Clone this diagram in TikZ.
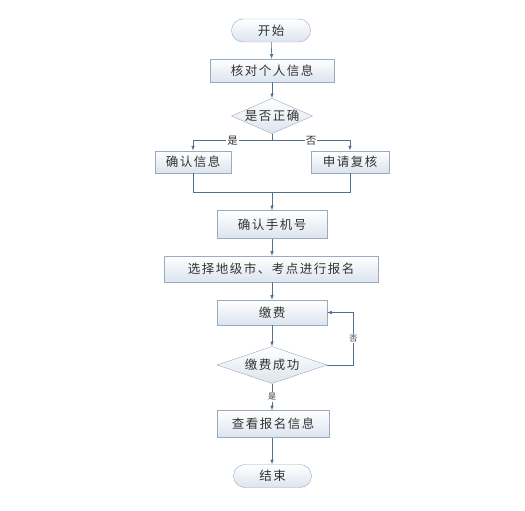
\documentclass[tikz,border=0pt]{standalone}
\usepackage{fontspec}
\usepackage{tikz}
\usetikzlibrary{shapes.geometric}
\usetikzlibrary{shapes.misc}
\usetikzlibrary{calc}
\setmainfont{Noto Sans CJK SC}[LetterSpace=12]
\definecolor{boxline}{HTML}{9AAABF}
\definecolor{boxfill}{HTML}{DCE4EE}
\definecolor{arrowcol}{HTML}{566F8C}
\definecolor{textcol}{HTML}{333333}

\tikzset{
    basebox/.style={draw=boxline, top color=white, bottom color=boxfill, text=textcol, font=\fontsize{12.5}{14}\selectfont, inner sep=0pt},
    procbox/.style={basebox, rectangle},
    termbox/.style={basebox, rounded rectangle},
    decibox/.style={basebox, diamond, aspect=2.3},
    flow/.style={draw=arrowcol, ->, >=latex, line width=0.6pt},
    lbl/.style={fill=white, text=textcol, inner sep=1pt, font=\fontsize{10.5}{12}\selectfont}
}

\begin{document}
\begin{tikzpicture}[x=1pt,y=-1pt]
        \begin{scope}
            \useasboundingbox[fill=white] (0,0) rectangle (525,511);

            \node[termbox, minimum width=79pt, minimum height=23pt] (start) at (271,30.5) {开始};
            \node[procbox, minimum width=124pt, minimum height=23pt] (check) at (272,70.5) {核对个人信息};
            \node[decibox, minimum width=78pt, minimum height=34pt] (ok) at (272,116) {是否正确};
            \node[procbox, minimum width=76pt, minimum height=22pt] (confirm) at (193,161.7) {确认信息};
            \node[procbox, minimum width=78pt, minimum height=22pt] (review) at (350,161.7) {申请复核};
            \node[procbox, minimum width=110pt, minimum height=28pt] (phone) at (272,224.5) {确认手机号};
            \node[procbox, minimum width=214pt, minimum height=26pt] (select) at (271,269) {选择地级市、考点进行报名};
            \node[procbox, minimum width=110pt, minimum height=25pt] (pay) at (272,312.5) {缴费};
            \node[decibox, minimum width=110pt, minimum height=37pt] (paid) at (272,365) {缴费成功};
            \node[procbox, minimum width=112pt, minimum height=27pt] (info) at (273,424) {查看报名信息};
            \node[termbox, minimum width=78pt, minimum height=23pt] (finish) at (272.5,476) {结束};

            \coordinate (split) at (272,140.7);
            \coordinate (merge) at (272,192.3);
            \coordinate (loop) at (353.3,365);

            \draw[flow] (start) -- (check);
            \draw[flow] (check) -- (ok);
            \draw[flow] (ok.south) -- (split) -| (confirm.north) node[lbl, pos=0.25] {是};
            \draw[flow] (split) -| (review.north) node[lbl, pos=0.25] {否};
            \draw[draw=arrowcol, line width=0.6pt] (confirm.south) |- (merge) -| (review.south);
            \draw[flow] (merge) -- (phone.north -| merge);
            \draw[flow] (phone.south -| merge) -- (select.north -| merge);
            \draw[flow] (select.south -| merge) -- (pay.north -| merge);
            \draw[flow] (pay.south -| merge) -- (paid.north -| merge);
            \draw[flow] (paid.east) -- (loop) |- (pay.east) node[lbl, pos=0.25, font=\fontsize{8}{9}\selectfont] {否};
            \draw[flow] (paid.south -| merge) -- (info.north -| merge) node[lbl, midway, font=\fontsize{8}{9}\selectfont] {是};
            \draw[flow] (info.south -| merge) -- (finish.north -| merge);

        \end{scope}
    \end{tikzpicture}
\end{document}
